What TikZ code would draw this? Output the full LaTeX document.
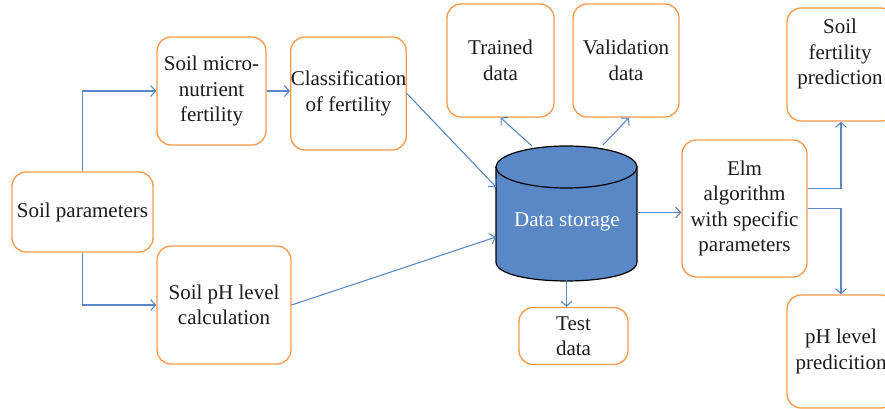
\documentclass[tikz,border=0pt]{standalone}
\usepackage{fontspec}
\setmainfont{Liberation Serif}
\usetikzlibrary{arrows.meta,calc}
\definecolor{boxorange}{HTML}{F79A4A}
\definecolor{linkblue}{HTML}{5B87C6}
\definecolor{drumblue}{HTML}{5A87C5}
\definecolor{inkgray}{HTML}{1E1B1C}
\begin{document}
\begin{tikzpicture}[x=1pt,y=-1pt,
  box/.style={draw=boxorange, line width=1.3pt, rounded corners=14pt, fill=white,
    align=center, inner sep=0pt, text=inkgray, font=\fontsize{21}{25.5}\selectfont},
  txt/.style={align=center, inner sep=0pt, text=inkgray, font=\fontsize{21}{25.5}\selectfont},
  link/.style={draw=linkblue, line width=1.1pt, -{Straight Barb[length=5pt,width=11pt]}},
  ]
\useasboundingbox (0,0) rectangle (885,409);

% process boxes
\node[box, minimum width=141pt, minimum height=80pt]  (sp)  at (82.5,212)  {Soil parameters};
\node[box, minimum width=109pt, minimum height=108pt] (mn)  at (211.5,91)  {Soil micro-\\nutrient\\fertility};
\node[box, minimum width=115pt, minimum height=113pt] (cf)  at (348.5,93.5) {Classification\\of fertility};
\node[box, minimum width=134pt, minimum height=118pt] (ph)  at (224,305)   {Soil pH level\\calculation};
\node[box, minimum width=107pt, minimum height=113pt] (tr)  at (500.5,60.5) {Trained\\data};
\node[box, minimum width=106pt, minimum height=113pt] (va)  at (626,60.5)  {Validation\\data};
\node[box, minimum width=109pt, minimum height=57pt]  (te)  at (573.5,336) {Test\\data};
\node[box, minimum width=125pt, minimum height=137pt] (elm) at (744.5,208.5) {Elm\\algorithm\\with specific\\parameters};
\node[box, minimum width=108pt, minimum height=113pt] (sfp) at (841,64.5)  {};
\node[txt] (sfpt) at (840,54) {Soil\\fertility\\prediction};
\node[box, minimum width=108pt, minimum height=113pt] (php) at (841,351.5) {pH level\\predicition};

% data storage drum
\node[minimum width=141pt, minimum height=135pt, inner sep=0pt] (ds) at (566.5,212.5) {};
\filldraw[fill=drumblue, draw=black, line width=1.2pt]
  (496,167) -- (496,262) .. controls (496,287.3) and (637,287.3) .. (637,262) -- (637,167) -- cycle;
\filldraw[fill=drumblue, draw=black, line width=1.2pt]
  (566.5,167) ellipse [x radius=70.5pt, y radius=21pt];
\node[txt, text=white] (dsl) at (567,222) {Data storage};

% connectors
\coordinate (dsin1) at (496,187);
\coordinate (dsin2) at (496,237);
\coordinate (dsout1) at (532,146);
\coordinate (dsout2) at (603,145);
\draw[link] (sp.north) |- (mn.west);
\draw[link] (sp.south) |- (ph.west);
\draw[link] (mn.east) -- (mn.east -| cf.west);
\draw[link] (cf.east) -- (dsin1);
\draw[link] (ph.east) -- (dsin2);
\draw[link] (dsout1) -- (tr.south);
\draw[link] (dsout2) -- ($(va.south)+(3,0)$);
\draw[link] (ds.south) -- (ds.south |- te.north);
\draw[link] (ds.east) -- (ds.east -| elm.west);
\draw[link] ($(elm.east)+(0,-20)$) -| (sfp.south);
\draw[link] (elm.east) -| (php.north);
\end{tikzpicture}
\end{document}
